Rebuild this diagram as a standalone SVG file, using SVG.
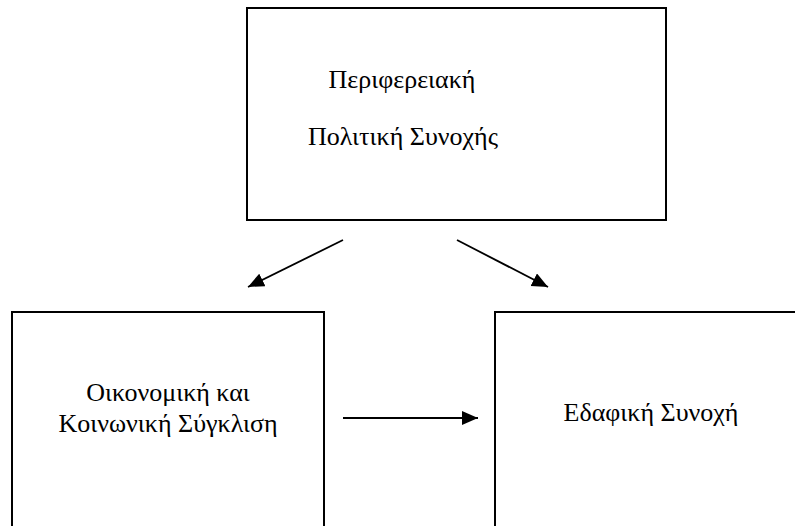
<svg xmlns="http://www.w3.org/2000/svg" width="795" height="526" viewBox="0 0 795 526">
<style>
.box{fill:#fff;stroke:#000;stroke-width:2}
.lbl{font-family:"Liberation Serif","Times New Roman",serif;font-size:26px;fill:#000;text-anchor:middle}
.conn{stroke:#000;stroke-width:1.8;fill:none;marker-end:url(#ah)}
</style>
<defs>
<marker id="ah" markerUnits="userSpaceOnUse" markerWidth="18" markerHeight="16" refX="16" refY="7" orient="auto" viewBox="0 0 18 16">
<path d="M0,0 L16,7 L0,14 Z" fill="#000"/>
</marker>
</defs>
<rect width="795" height="526" fill="#fff"/>
<g id="node-top">
<rect class="box" x="247" y="8" width="419" height="212"/>
<text class="lbl" x="402" y="88">Περιφερειακή</text>
<text class="lbl" x="403" y="145">Πολιτική Συνοχής</text>
</g>
<g id="node-left">
<rect class="box" x="12" y="312" width="312" height="230"/>
<text class="lbl" x="168" y="401">Οικονομική και</text>
<text class="lbl" x="168" y="432">Κοινωνική Σύγκλιση</text>
</g>
<g id="node-right">
<rect class="box" x="495" y="312" width="320" height="230"/>
<text class="lbl" x="651" y="421">Εδαφική Συνοχή</text>
</g>
<g id="connectors">
<line class="conn" x1="343" y1="240" x2="248" y2="287"/>
<line class="conn" x1="457" y1="240" x2="548" y2="287"/>
<line class="conn" x1="343" y1="418" x2="478" y2="418"/>
</g>
</svg>
